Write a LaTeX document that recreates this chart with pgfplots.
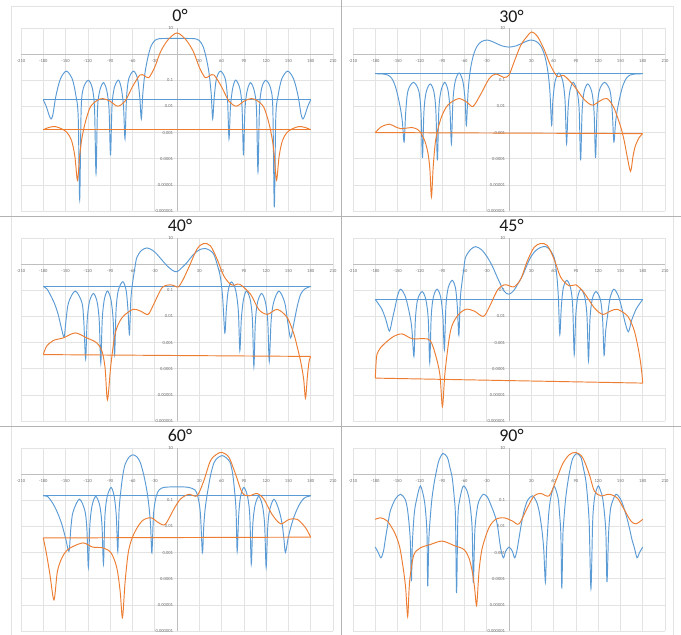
\documentclass[border=0pt]{standalone}
\usepackage{pgfplots}
\pgfplotsset{compat=1.18}
\usepackage{fontspec}
\setmainfont{Carlito}
\definecolor{xlblue}{HTML}{5B9BD5}
\definecolor{xlorange}{HTML}{ED7D31}
\definecolor{gridc}{HTML}{E3E3E3}
\definecolor{axc}{HTML}{BFBFBF}
\definecolor{lblc}{HTML}{707070}
\pgfplotsset{
  mypanel/.style={
    scale only axis, width=312bp, height=183bp, anchor=south west,
    xmin=-210, xmax=210, ymin=1e-6, ymax=10,
    axis lines=middle, axis line style={draw=axc, line width=0.6pt, -},
    xtick={-210,-180,-150,-120,-90,-60,-30,0,30,60,90,120,150,180,210},
    xticklabels={-210,-180,-150,-120,-90,-60,-30,0,30,60,90,120,150,180,210},
    ytick={1e-6,1e-5,1e-4,1e-3,1e-2,1e-1,1,10},
    yticklabels={0.000001,0.00001,0.0001,0.001,0.01,0.1,1,10},
    major tick length=0pt, minor tick length=0pt,
    minor y tick num=0, minor tick style={draw=none},
    grid=major, major grid style={draw=gridc, line width=0.6pt},
    tick label style={font=\fontsize{4.6}{5}\selectfont, text=lblc},
    xticklabel style={yshift=-1.5bp},
    yticklabel style={xshift=-0.5bp},
  },
  bl/.style={draw=xlblue, line width=0.95pt, smooth, no markers},
  og/.style={draw=xlorange, line width=0.95pt, smooth, no markers},
  blw/.style={draw=xlblue, line width=0.95pt, no markers},
  ogw/.style={draw=xlorange, line width=0.95pt, no markers},
}
\tikzset{ttl/.style={font=\fontsize{18}{20}\selectfont, text=black!90, inner sep=0pt}}
\begin{document}
\begin{tikzpicture}
\path[use as bounding box] (0,0) rectangle (681bp,635bp);
\fill[white] (0,0) rectangle (681bp,635bp);
% frames and separators
\draw[gridc, line width=0.6pt] (11.7bp,0) -- (11.7bp,628.3bp) -- (673bp,628.3bp) -- (673bp,0);
\draw[black!30, line width=0.8pt] (341.5bp,0) -- (341.5bp,635bp);
\draw[black!30, line width=0.8pt] (0,418.3bp) -- (681bp,418.3bp);
\draw[black!30, line width=0.8pt] (0,208.3bp) -- (681bp,208.3bp);

% ---------------- 0 deg ----------------
\begin{axis}[ymode=log, mypanel, at={(21bp,424bp)}]
\addplot[bl] coordinates {(-180,1.78e-2)(-176,1e-2)(-172,4.47e-3)(-169.5,3.31e-3)(-167,5.01e-3)(-163,2.51e-2)(-157,0.112)(-149,0.224)(-141,0.112)(-136,2.51e-2)(-133,3.98e-3)(-131,2.75e-6)(-129,7.94e-3)(-126,5.01e-2)(-119.5,0.1)(-114,5.01e-2)(-111,7.94e-3)(-109,2.69e-5)(-107,7.94e-3)(-104,3.98e-2)(-99,8.13e-2)(-94.5,3.98e-2)(-91.5,7.94e-3)(-89.5,1.35e-4)(-87.5,1e-2)(-84.5,5.01e-2)(-79,0.102)(-75,5.01e-2)(-72,1e-2)(-70,5.75e-4)(-68,2e-2)(-65,0.112)(-58.5,0.224)(-53,0.112)(-50,2e-2)(-48,3.31e-3)(-46,3.16e-2)(-43,0.2)(-39,0.794)(-35,2)(-30,3.31)(-24,3.89)(-12,3.98)(0,3.98)(12,3.98)(24,3.89)(30,3.31)(35,2)(39,0.794)(43,0.2)(46,3.16e-2)(48,3.31e-3)(50,2e-2)(53,0.112)(58.5,0.224)(65,0.112)(68,2e-2)(70,5.75e-4)(72,1e-2)(75,5.01e-2)(79,0.102)(84.5,5.01e-2)(87.5,1e-2)(89.5,1.35e-4)(91.5,7.94e-3)(94.5,3.98e-2)(99,8.13e-2)(104,3.98e-2)(107,7.94e-3)(109,3.16e-5)(111,7.94e-3)(114,5.01e-2)(119.5,0.1)(126,5.01e-2)(129,7.94e-3)(131,1.38e-6)(133,3.98e-3)(136,2.51e-2)(141,0.112)(149,0.224)(157,0.112)(163,2.51e-2)(167,5.01e-3)(169.5,3.31e-3)(172,4.47e-3)(176,1e-2)(180,1.78e-2)};
\addplot[blw] coordinates {(180,1.78e-2)(-180,1.78e-2)};
\addplot[og] coordinates {(-180,1.29e-3)(-172,1.58e-3)(-164,1.70e-3)(-155,1.38e-3)(-148,1e-3)(-142,5.01e-4)(-137.5,1.26e-4)(-134,1.51e-5)(-131,1.26e-4)(-128.5,5.01e-4)(-124,2.14e-3)(-117,9.12e-3)(-108,1.66e-2)(-100,2e-2)(-90,1.58e-2)(-80,1.02e-2)(-70,1.58e-2)(-60,5.62e-2)(-50,0.158)(-44,0.151)(-38,0.126)(-30,0.316)(-22,1.26)(-12,3.55)(0,6.46)(12,3.55)(22,1.26)(30,0.316)(38,0.126)(44,0.151)(50,0.158)(60,5.62e-2)(70,1.58e-2)(80,1.02e-2)(90,1.58e-2)(100,2e-2)(108,1.66e-2)(117,9.12e-3)(124,2.14e-3)(128.5,5.01e-4)(131,1.26e-4)(134,1.51e-5)(137.5,1.26e-4)(142,5.01e-4)(148,1e-3)(155,1.38e-3)(164,1.70e-3)(172,1.58e-3)(180,1.29e-3)};
\addplot[ogw] coordinates {(180,1.29e-3)(-180,1.29e-3)};
\end{axis}
\node[ttl] at (180bp,619.5bp) {0°};

% ---------------- 30 deg ----------------
\begin{axis}[ymode=log, mypanel, at={(353bp,424bp)}]
\addplot[bl] coordinates {(-180,0.178)(-170,0.174)(-163,0.158)(-158,0.120)(-154,7.08e-2)(-150,2.82e-2)(-146,7.94e-3)(-143.5,2.51e-3)(-141.2,4.37e-4)(-139,6.31e-3)(-136,3.98e-2)(-128.6,8.32e-2)(-121.5,3.98e-2)(-118.5,6.31e-3)(-116.5,1.07e-4)(-114.5,6.31e-3)(-111.5,3.55e-2)(-106,7.24e-2)(-101,3.55e-2)(-98.4,6.31e-3)(-96.4,8.71e-5)(-94.4,7.94e-3)(-91.5,3.98e-2)(-86.5,8.32e-2)(-82,3.98e-2)(-79.5,7.94e-3)(-77.5,3.80e-4)(-75.5,1.58e-2)(-72.5,8.91e-2)(-67.2,0.191)(-62,8.91e-2)(-59,1.58e-2)(-57.4,1.91e-3)(-55,3.98e-2)(-52,0.251)(-48,0.891)(-43,2.0)(-37,3.02)(-29,3.47)(-20,2.82)(-10,2.09)(0,1.86)(10,2.09)(20,2.82)(29,3.47)(37,3.02)(43,2.0)(48,0.891)(52,0.251)(55,3.98e-2)(57.4,1.91e-3)(59,1.58e-2)(62,8.91e-2)(67.2,0.191)(72.5,8.91e-2)(75.5,1.58e-2)(77.5,3.80e-4)(79.5,7.94e-3)(82,3.98e-2)(86.5,8.32e-2)(91.5,3.98e-2)(94.4,7.94e-3)(96.4,8.71e-5)(98.4,6.31e-3)(101,3.55e-2)(106,7.24e-2)(111.5,3.55e-2)(114.5,6.31e-3)(116.5,1.07e-4)(118.5,6.31e-3)(121.5,3.98e-2)(128.6,8.32e-2)(136,3.98e-2)(139,6.31e-3)(141.2,4.37e-4)(143.5,2.51e-3)(146,7.94e-3)(150,2.82e-2)(154,7.08e-2)(158,0.120)(163,0.158)(170,0.174)(180,0.178)};
\addplot[blw] coordinates {(180,0.178)(-180,0.178)};
\addplot[og] coordinates {(-180,1e-3)(-172,1.66e-3)(-161,2.09e-3)(-153,1.66e-3)(-145.7,1.41e-3)(-138,1.48e-3)(-130,1.55e-3)(-123,1.32e-3)(-118.8,1e-3)(-113,4.47e-4)(-109,1.58e-4)(-106.5,3.98e-5)(-104.4,3.39e-6)(-102,5.01e-5)(-98.6,5.5e-4)(-92,3.24e-3)(-85,8.91e-3)(-78.4,1.41e-2)(-67,2e-2)(-56,1.41e-2)(-48.4,1e-2)(-38,2.95e-2)(-27,0.112)(-18,0.174)(-6.7,0.129)(0,0.158)(6.7,0.49)(15.7,2.14)(24.6,4.9)(30.5,7.08)(38,4.9)(47,1.58)(56,0.363)(65,0.141)(74,0.151)(87.4,6.17e-2)(100.8,1.91e-2)(112,1.12e-2)(123,1.66e-2)(132,2e-2)(141,9.12e-3)(150,1.78e-3)(155,5.01e-4)(159,1.26e-4)(163.6,3.31e-5)(167,1.26e-4)(170,3.02e-4)(175,6.31e-4)(180,9.12e-4)};
\addplot[ogw] coordinates {(180,9.12e-4)(-180,1e-3)};
\end{axis}
\node[ttl] at (511.5bp,619bp) {30°};

% ---------------- 40 deg ----------------
\begin{axis}[ymode=log, mypanel, at={(21bp,214bp)}]
\addplot[bl] coordinates {(-180,0.141)(-175,0.112)(-171,7.08e-2)(-165,3.16e-2)(-160,1.2e-2)(-156,3.98e-3)(-152,1.62e-3)(-149.5,6.76e-3)(-146,3.39e-2)(-137,9.33e-2)(-128,3.39e-2)(-125.5,6.76e-3)(-123,2.4e-4)(-121,6.31e-3)(-118,3.55e-2)(-112.5,7.59e-2)(-107.5,3.55e-2)(-104.6,6.31e-3)(-102.6,1.66e-4)(-100.6,7.94e-3)(-97.8,4.47e-2)(-93.6,9.33e-2)(-89,4.47e-2)(-86,7.94e-3)(-84,3.47e-4)(-82,1.78e-2)(-79,0.1)(-73,0.214)(-68.5,0.1)(-66,1.78e-2)(-64,2.04e-3)(-62,5.01e-2)(-59.4,0.229)(-56.5,0.794)(-54,1.82)(-48,3.31)(-40.5,4.17)(-33,3.39)(-27,2.4)(-20,1.41)(-13.5,0.871)(-6,0.575)(0,0.513)(6,0.708)(13.5,1.15)(20,2.0)(27,3.09)(33,3.8)(38,3.98)(44,3.39)(49.5,2.4)(54,1.0)(58.5,0.309)(61.5,5.01e-2)(64.4,2.34e-3)(66.4,1.78e-2)(69,0.1)(73.4,0.209)(79,0.1)(82.6,1.58e-2)(84.6,4.9e-4)(86.6,7.94e-3)(89.5,4.47e-2)(93.6,9.33e-2)(98.5,4.47e-2)(101.5,7.94e-3)(103.5,1.23e-4)(105.5,6.31e-3)(108.5,3.55e-2)(113.9,7.59e-2)(119,3.55e-2)(122.2,6.31e-3)(124.2,1.91e-4)(126.7,6.76e-3)(130,3.39e-2)(137.2,9.33e-2)(145,3.39e-2)(149.5,5.01e-3)(153,1.51e-3)(157,5.01e-3)(162,2.51e-2)(166.5,7.08e-2)(172,0.112)(180,0.141)};
\addplot[blw] coordinates {(180,0.141)(-180,0.141)};
\addplot[og] coordinates {(-180,3.47e-4)(-175.5,7.24e-4)(-166.5,1.2e-3)(-153,1.51e-3)(-137,2.34e-3)(-121.5,1.51e-3)(-108,9.77e-4)(-101,4.68e-4)(-96.8,1.07e-4)(-93.6,6.46e-6)(-89,1.41e-4)(-83,2.34e-3)(-74,8.91e-3)(-59.4,1.86e-2)(-49.5,1.62e-2)(-39,1.2e-2)(-31.5,2.88e-2)(-20,0.126)(-9,0.162)(-3,0.145)(2,0.135)(8,0.251)(15.8,0.741)(27,3.8)(36,6.17)(45,5.01)(54,1.55)(63,0.355)(72,0.17)(78,0.158)(84.6,0.17)(99,7.08e-2)(110,1.86e-2)(121.5,1.2e-2)(135,1.86e-2)(148.5,8.91e-3)(157.5,2.04e-3)(163,5.01e-4)(167,1.58e-4)(170.5,3.98e-5)(173,7.41e-6)(175.5,5.01e-5)(177.8,1.91e-4)(180,2.95e-4)};
\addplot[ogw] coordinates {(180,2.95e-4)(-180,3.47e-4)};
\end{axis}
\node[ttl] at (180bp,409.5bp) {40°};

% ---------------- 45 deg ----------------
\begin{axis}[ymode=log, mypanel, at={(353bp,214bp)}]
\addplot[bl] coordinates {(-180,4.47e-2)(-175,2.82e-2)(-171,1.86e-2)(-166,7.94e-3)(-161,2.75e-3)(-157,7.94e-3)(-153,2.51e-2)(-150,6.31e-2)(-146,0.11)(-140,6.31e-2)(-135,1.78e-2)(-131,3.98e-3)(-128,2.95e-4)(-126,7.94e-3)(-123,4.47e-2)(-117,8.91e-2)(-112,4.47e-2)(-108.7,7.94e-3)(-106.7,1.74e-4)(-104.7,1e-2)(-101.8,5.5e-2)(-96.8,0.11)(-92,5.5e-2)(-89,1e-2)(-87,5.37e-4)(-85,2.24e-2)(-82,0.12)(-76.5,0.24)(-72,0.12)(-69.5,2.24e-2)(-67.5,1.91e-3)(-65.5,5.01e-2)(-63,0.229)(-60.5,0.794)(-58.5,1.82)(-52,3.55)(-45,4.68)(-37,3.55)(-29,1.82)(-22,0.794)(-15.7,0.309)(-6.7,9.33e-2)(0,7.08e-2)(6.7,0.1)(12,0.178)(18,0.355)(24,0.891)(29,1.82)(36,3.31)(42.7,4.37)(49.5,4.68)(55,3.55)(60.7,1.82)(63,0.794)(65,0.229)(66.5,5.01e-2)(68.4,2.04e-3)(70.4,2.24e-2)(73,0.12)(77.8,0.24)(83,0.12)(85.8,2.24e-2)(87.8,3.47e-4)(89.8,1e-2)(92.5,5.5e-2)(96.8,0.11)(102,5.5e-2)(105,1e-2)(107,2.04e-4)(109,7.94e-3)(112,4.47e-2)(117,8.91e-2)(123,4.47e-2)(126,7.94e-3)(128,3.24e-4)(130,2.51e-3)(133,1.26e-2)(136,5.01e-2)(141,0.11)(147,6.31e-2)(152,2e-2)(156,6.31e-3)(160.7,2.57e-3)(165,7.08e-3)(171,1.86e-2)(175,2.82e-2)(180,4.47e-2)};
\addplot[blw] coordinates {(180,4.47e-2)(-180,4.47e-2)};
\addplot[og] coordinates {(-180,4.37e-5)(-179,1.58e-4)(-177.8,3.47e-4)(-173,6.31e-4)(-164,1.12e-3)(-155,1.74e-3)(-144,2.14e-3)(-130.5,1.41e-3)(-114.8,1.41e-3)(-106,1.2e-3)(-99,3.47e-4)(-93,5.89e-5)(-89.6,3.55e-6)(-86,7.94e-5)(-78.8,2.75e-3)(-69.8,1.02e-2)(-58.5,1.86e-2)(-47,1.62e-2)(-34.7,1e-2)(-27,2.14e-2)(-15.7,0.1)(-6.7,0.162)(0,0.151)(6.7,0.135)(15.7,0.263)(24.8,1.35)(33.8,4.37)(42.7,6.17)(51.7,5.13)(60.7,1.55)(69.8,0.309)(81,0.148)(90,0.162)(101,8.13e-2)(114.8,2.14e-2)(126,1.2e-2)(137,1.62e-2)(146,1.86e-2)(159.8,1.02e-2)(168.8,2.75e-3)(175.5,3.47e-4)(178.6,7.94e-5)(180,2.82e-5)};
\addplot[ogw] coordinates {(180,2.82e-5)(-180,4.37e-5)};
\end{axis}
\node[ttl] at (511.5bp,409.5bp) {45°};

% ---------------- 60 deg ----------------
\begin{axis}[ymode=log, mypanel, at={(21bp,4bp)}]
\addplot[bl] coordinates {(-180,0.148)(-174,0.138)(-166.5,7.08e-2)(-160.5,3.16e-2)(-155,1.2e-2)(-150,3.55e-3)(-145.4,1.12e-3)(-143,7.94e-3)(-140,3.55e-2)(-131.4,0.11)(-124,3.98e-2)(-121.3,7.94e-3)(-119.3,2.75e-4)(-117.3,1.12e-2)(-114.3,6.31e-2)(-109.4,0.141)(-104,6.31e-2)(-101,1.12e-2)(-99,3.63e-4)(-97,2.51e-2)(-94,0.138)(-88.7,0.309)(-84.5,0.138)(-81.7,2.51e-2)(-79.7,1.12e-3)(-78,3.98e-2)(-75.6,0.229)(-73,0.891)(-69.8,2.4)(-64.5,4.47)(-59.4,5.5)(-54,4.57)(-49.5,2.82)(-45,1)(-40.5,0.229)(-37.5,5.01e-2)(-35.5,1e-2)(-33.8,9.77e-4)(-31.5,3.16e-2)(-28,0.141)(-24,0.251)(-18,0.309)(-9,0.324)(0,0.324)(9,0.324)(16,0.309)(24,0.251)(28,0.141)(31.5,3.16e-2)(34.2,9.77e-4)(36,1e-2)(38,5.01e-2)(41.4,0.229)(45.5,1)(50,2.82)(55,4.27)(60.8,5.13)(66,4.27)(71.5,2.82)(75,1)(77.5,0.229)(79.5,3.98e-2)(81,1.12e-3)(83,2.51e-2)(85.5,0.138)(90,0.309)(95,0.138)(98,2.51e-2)(100,3.63e-4)(102,1.12e-2)(105,6.31e-2)(110,0.141)(115,6.31e-2)(118,1.12e-2)(120,2.75e-4)(122,7.94e-3)(124.5,3.98e-2)(130.5,0.11)(137,4.47e-2)(141.5,1.26e-2)(144,3.16e-3)(146,1.02e-3)(150,3.98e-3)(155,1.41e-2)(160,3.55e-2)(166,7.94e-2)(172,0.126)(180,0.148)};
\addplot[blw] coordinates {(180,0.148)(-180,0.148)};
\addplot[og] coordinates {(-180,3.63e-3)(-175.5,8.32e-4)(-171,1.41e-4)(-165.6,1.55e-5)(-161,1.91e-4)(-155,6.17e-4)(-148.5,1.2e-3)(-139.5,1.74e-3)(-126,2.34e-3)(-113.4,1.62e-3)(-99.9,1.51e-3)(-88.7,9.77e-4)(-81,2.57e-4)(-76.5,3.24e-5)(-73.4,3.24e-6)(-69.8,7.94e-5)(-65.3,1.12e-3)(-58.5,4.9e-3)(-47,1.62e-2)(-35,2.14e-2)(-24.8,1.38e-2)(-15.8,1.2e-2)(-4.5,4.47e-2)(4.5,0.11)(15.8,0.17)(27,0.148)(36,0.55)(45,3.24)(54,5.89)(60.8,6.76)(70,4.37)(78.8,1)(87.8,0.195)(96.8,0.148)(108,0.182)(117,0.11)(128,2.88e-2)(139.5,1.26e-2)(150.8,1.86e-2)(162,1.86e-2)(173,8.91e-3)(180,3.89e-3)};
\addplot[ogw] coordinates {(180,3.89e-3)(-180,3.63e-3)};
\end{axis}
\node[ttl] at (180bp,199.5bp) {60°};

% ---------------- 90 deg ----------------
\begin{axis}[ymode=log, mypanel, at={(353bp,4bp)}]
\addplot[bl] coordinates {(-180,1.62e-3)(-176,1e-3)(-172.4,6.31e-4)(-169,1.12e-3)(-166.5,3.16e-3)(-163,1.26e-2)(-159.8,3.89e-2)(-153,0.112)(-146,0.17)(-140,0.112)(-137,5.25e-2)(-134.5,1.26e-2)(-132.8,2.51e-3)(-131.4,7.94e-5)(-130,2.51e-3)(-127.5,3.16e-2)(-124.6,0.1)(-119.3,0.355)(-114,0.1)(-111.5,2e-2)(-110.3,3.98e-3)(-109.4,5.13e-5)(-108,2.51e-3)(-106.7,1.2e-2)(-104,0.1)(-101,0.417)(-97.5,1.41)(-94.5,3.24)(-89,6.17)(-83,4.37)(-79.5,1.78)(-76.5,0.741)(-74,0.158)(-72,2.14e-2)(-70.6,2.82e-5)(-68.8,2.14e-2)(-66.5,0.1)(-63,0.282)(-60.8,0.355)(-57,0.251)(-54,0.126)(-51.5,3.98e-2)(-49.5,6.61e-3)(-48,6.76e-5)(-46,6.61e-3)(-43,4.47e-2)(-40.5,9.33e-2)(-34.7,0.17)(-29,0.132)(-24.8,7.08e-2)(-20,3.16e-2)(-15.8,1.2e-2)(-11.3,1.51e-3)(-7.6,6.31e-4)(-4.5,1.12e-3)(0,1.62e-3)(4.5,1.12e-3)(7.6,6.31e-4)(10.5,1.12e-3)(13.5,3.63e-3)(17,1.41e-2)(20.2,3.89e-2)(25,0.1)(31.5,0.148)(37,8.91e-2)(40.5,3.89e-2)(43,1.41e-2)(45,4.9e-3)(46.8,1.26e-3)(49,7.41e-5)(50.5,1.26e-3)(51.7,4.9e-3)(53.5,3.16e-2)(56.2,0.126)(60.8,0.339)(66,0.126)(68,3.16e-2)(69.8,4.9e-3)(71.1,4.17e-5)(72.5,3.98e-3)(73.4,1.2e-2)(76,0.1)(78.8,0.417)(82,1.41)(85.5,3.8)(90.9,6.17)(96.8,4.37)(100,1.78)(103.5,0.55)(106,0.1)(108,1.2e-2)(110.3,4.17e-5)(112.5,1.2e-2)(114,6.31e-2)(116,0.17)(120.2,0.355)(124,0.2)(126,0.126)(128.5,3.16e-2)(130.5,4.9e-3)(131.9,7.41e-5)(134,4.9e-3)(136,3.16e-2)(138,7.08e-2)(144,0.17)(150,0.112)(153,7.08e-2)(158,2.51e-2)(162,8.91e-3)(165.5,3.16e-3)(168.8,1.51e-3)(172.4,6.31e-4)(175.5,9.77e-4)(180,1.62e-3)};
\addplot[og] coordinates {(-180,1.86e-2)(-173,2.14e-2)(-164,1.62e-2)(-155,6.61e-3)(-149,2.51e-3)(-146,1.12e-3)(-141.8,1.91e-4)(-139,3.98e-5)(-136.4,3.55e-6)(-134.5,3.98e-5)(-132.8,1.41e-4)(-128,8.32e-4)(-119.3,1.51e-3)(-105.8,2.04e-3)(-90,2.75e-3)(-74,1.86e-3)(-60.8,1.32e-3)(-54,6.31e-4)(-49.5,1.91e-4)(-46.5,5.01e-5)(-43.7,9.33e-6)(-41.5,6.31e-5)(-40,2.51e-4)(-36,1.51e-3)(-27,8.91e-3)(-18,1.86e-2)(-6.7,2.14e-2)(4.5,1.62e-2)(13.5,1.26e-2)(24.8,5.25e-2)(33.8,0.148)(42.7,0.182)(54,0.148)(63,0.55)(72,2.4)(81,5.5)(90,6.76)(99,4.37)(108,1)(114.8,0.229)(123.7,0.148)(135,0.17)(146,0.12)(155,4.47e-2)(164,1.62e-2)(171,1.26e-2)(180,1.86e-2)};
\end{axis}
\node[ttl] at (511.5bp,199.5bp) {90°};
\end{tikzpicture}
\end{document}
